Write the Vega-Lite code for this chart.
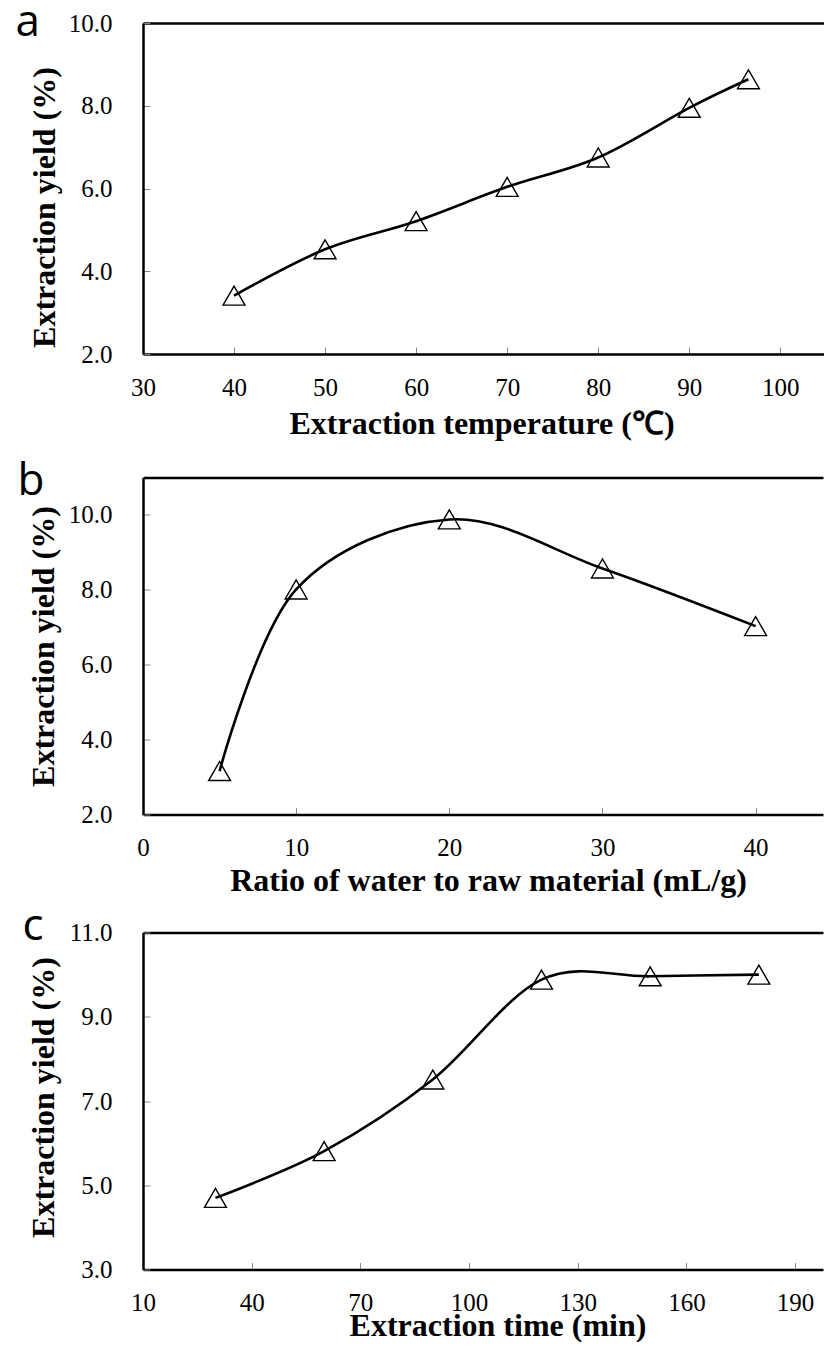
{
  "$schema": "https://vega.github.io/schema/vega-lite/v6.json",
  "padding": {"left": 15, "top": 0, "right": 0, "bottom": 0},
  "background": "white",
  "bounds": "flush",
  "spacing": 123.5,
  "vconcat": [
    {
      "width": 681,
      "height": 331,
      "data": {"values": [
        {"x": 40, "y": 3.41},
        {"x": 50, "y": 4.53},
        {"x": 60, "y": 5.21},
        {"x": 70, "y": 6.04},
        {"x": 80, "y": 6.75},
        {"x": 90, "y": 7.95},
        {"x": 96.5, "y": 8.64}
      ]},
      "layer": [
        {
          "mark": {"type": "point", "shape": "triangle-up", "size": 480, "filled": false, "stroke": "black", "strokeWidth": 1.4, "opacity": 1},
          "encoding": {
            "x": {"field": "x", "type": "quantitative", "scale": {"domain": [30, 104.8], "nice": false, "zero": false}, "axis": {"orient": "top", "labels": false, "ticks": false, "domain": true, "title": "a", "titleX": -128, "titleY": 12, "titleAngle": 0, "titleAlign": "left", "titleFont": "Open Sans", "titleFontSize": 44, "titleFontWeight": "normal"}},
            "y": {"field": "y", "type": "quantitative", "scale": {"domain": [2, 10], "nice": false, "zero": false}, "axis": {"orient": "left", "values": [2, 4, 6, 8, 10], "format": ".1f", "title": "Extraction yield (%)", "titleX": -89, "titleY": 184}}
          }
        },
        {
          "mark": {"type": "line", "interpolate": "cardinal", "color": "black", "strokeWidth": 2.6},
          "encoding": {
            "x": {"field": "x", "type": "quantitative", "scale": {"domain": [30, 104.8], "nice": false, "zero": false}, "axis": {"orient": "bottom", "values": [30, 40, 50, 60, 70, 80, 90, 100], "title": "Extraction temperature (℃)", "titleX": 338.5, "titleY": 79.5}},
            "y": {"field": "y", "type": "quantitative", "scale": {"domain": [2, 10], "nice": false, "zero": false}, "axis": {"orient": "left", "values": [2, 4, 6, 8, 10], "format": ".1f", "title": "Extraction yield (%)", "titleX": -89, "titleY": 184}}
          }
        }
      ]
    },
    {
      "bounds": "flush",
      "spacing": 118,
      "vconcat": [
        {
          "width": 680,
          "height": 337,
          "data": {"values": [
            {"x": 5, "y": 3.16},
            {"x": 10, "y": 8.01},
            {"x": 20, "y": 9.88},
            {"x": 30, "y": 8.57},
            {"x": 40, "y": 7.03}
          ]},
          "layer": [
            {
              "mark": {"type": "point", "shape": "triangle-up", "size": 480, "filled": false, "stroke": "black", "strokeWidth": 1.4, "opacity": 1},
              "encoding": {
                "x": {"field": "x", "type": "quantitative", "scale": {"domain": [0, 44.4], "nice": false, "zero": false}, "axis": {"orient": "top", "labels": false, "ticks": false, "domain": true, "title": "b", "titleX": -126, "titleY": 17, "titleAngle": 0, "titleAlign": "left", "titleFont": "Open Sans", "titleFontSize": 44, "titleFontWeight": "normal"}},
                "y": {"field": "y", "type": "quantitative", "scale": {"domain": [2, 11], "nice": false, "zero": false}, "axis": {"orient": "left", "values": [2, 4, 6, 8, 10], "format": ".1f", "title": "Extraction yield (%)", "titleX": -90, "titleY": 168.5}}
              }
            },
            {
              "mark": {"type": "line", "interpolate": "cardinal", "color": "black", "strokeWidth": 2.6},
              "encoding": {
                "x": {"field": "x", "type": "quantitative", "scale": {"domain": [0, 44.4], "nice": false, "zero": false}, "axis": {"orient": "bottom", "values": [0, 10, 20, 30, 40], "title": "Ratio of water to raw material (mL/g)", "titleX": 345, "titleY": 76}},
                "y": {"field": "y", "type": "quantitative", "scale": {"domain": [2, 11], "nice": false, "zero": false}, "axis": {"orient": "left", "values": [2, 4, 6, 8, 10], "format": ".1f", "title": "Extraction yield (%)", "titleX": -90, "titleY": 168.5}}
              }
            }
          ]
        },
        {
          "width": 680,
          "height": 337,
          "data": {"values": [
            {"x": 30, "y": 4.7},
            {"x": 60, "y": 5.81},
            {"x": 90, "y": 7.51},
            {"x": 120, "y": 9.88},
            {"x": 150, "y": 9.96},
            {"x": 180, "y": 10.0}
          ]},
          "layer": [
            {
              "mark": {"type": "point", "shape": "triangle-up", "size": 480, "filled": false, "stroke": "black", "strokeWidth": 1.4, "opacity": 1},
              "encoding": {
                "x": {"field": "x", "type": "quantitative", "scale": {"domain": [10, 197.7], "nice": false, "zero": false}, "axis": {"orient": "top", "labels": false, "ticks": false, "domain": true, "title": "c", "titleX": -121, "titleY": 7, "titleAngle": 0, "titleAlign": "left", "titleFont": "Open Sans", "titleFontSize": 44, "titleFontWeight": "normal"}},
                "y": {"field": "y", "type": "quantitative", "scale": {"domain": [3, 11], "nice": false, "zero": false}, "axis": {"orient": "left", "values": [3, 5, 7, 9, 11], "format": ".1f", "title": "Extraction yield (%)", "titleX": -90, "titleY": 164.5}}
              }
            },
            {
              "mark": {"type": "line", "interpolate": "cardinal", "color": "black", "strokeWidth": 2.6},
              "encoding": {
                "x": {"field": "x", "type": "quantitative", "scale": {"domain": [10, 197.7], "nice": false, "zero": false}, "axis": {"orient": "bottom", "values": [10, 40, 70, 100, 130, 160, 190], "title": "Extraction time (min)", "titleX": 354.5, "titleY": 66}},
                "y": {"field": "y", "type": "quantitative", "scale": {"domain": [3, 11], "nice": false, "zero": false}, "axis": {"orient": "left", "values": [3, 5, 7, 9, 11], "format": ".1f", "title": "Extraction yield (%)", "titleX": -90, "titleY": 164.5}}
              }
            }
          ]
        }
      ]
    }
  ],
  "config": {
    "view": {"stroke": null},
    "axis": {
      "grid": false,
      "domainColor": "black",
      "domainWidth": 2.5,
      "tickColor": "#888888",
      "tickWidth": 1,
      "tickSize": -7,
      "labelFont": "Liberation Serif",
      "labelFontSize": 25,
      "labelColor": "black",
      "labelFlush": false,
      "labelOverlap": false,
      "titleFont": "Liberation Serif",
      "titleFontSize": 32,
      "titleFontWeight": "bold",
      "titleColor": "black",
      "titleBaseline": "alphabetic",
      "titleAlign": "center"
    },
    "axisX": {"labelPadding": 28},
    "axisY": {"labelPadding": 38}
  }
}
